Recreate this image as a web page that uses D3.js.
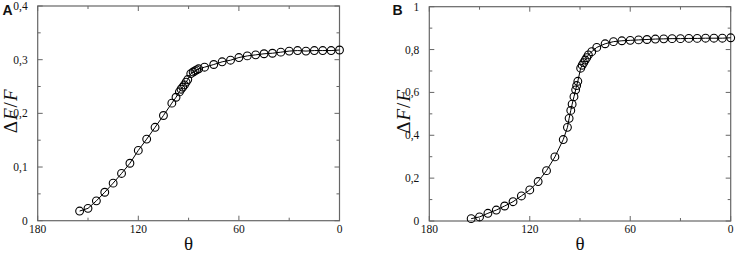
<!DOCTYPE html>
<html>
<head>
<meta charset="utf-8">
<script src="https://cdn.jsdelivr.net/npm/d3@7"></script>
<style>
	body { margin: 0; background: #fff; }
	svg { display: block; }
</style>
</head>
<body>
<svg id="chart" width="737" height="253"></svg>
<script>
// theta values (degrees) and dF/F
const thetaA = [155, 150, 145, 140, 135, 130, 125, 120, 115, 110, 105, 100, 97.5, 95.5, 94.5, 93.5, 92.5, 91.5, 90.5,
	88.7, 87.3, 86.2, 85.2, 84, 80.5, 75, 70, 65, 60, 55, 50, 45, 40, 35, 30, 25, 20, 15, 10, 5, 0];
const dffA = [0.018, 0.023, 0.037, 0.053, 0.070, 0.088, 0.107, 0.131, 0.152, 0.174, 0.196, 0.219, 0.230, 0.240, 0.245, 0.249, 0.253, 0.258, 0.263,
	0.274, 0.277, 0.279, 0.281, 0.283, 0.286, 0.291, 0.296, 0.299, 0.304, 0.307, 0.309, 0.311, 0.312, 0.314, 0.316, 0.317, 0.316, 0.317, 0.317, 0.317, 0.318];

const thetaB = [155, 150, 145, 140, 135, 130, 125, 120, 115, 110, 105, 100, 97.5, 96.5, 95.5, 94.7, 93.6, 92.6, 92, 91.3,
	89.6, 88.7, 87.8, 86.9, 86, 85, 83, 80, 75, 70, 65, 60, 55, 50, 45, 40, 35, 30, 25, 20, 15, 10, 5, 0];
const dffB = [0.011, 0.019, 0.036, 0.051, 0.070, 0.090, 0.117, 0.145, 0.184, 0.235, 0.299, 0.380, 0.437, 0.479, 0.516, 0.545, 0.580, 0.612, 0.632, 0.652,
	0.713, 0.727, 0.739, 0.751, 0.762, 0.775, 0.790, 0.810, 0.827, 0.837, 0.841, 0.843, 0.845, 0.847, 0.849, 0.850, 0.851, 0.851, 0.852, 0.852, 0.853, 0.853, 0.853, 0.855];

const xTicksMajor = [180, 120, 60, 0];
const xTicksMinor = [150, 90, 30];
const yTicksA = [0, 0.1, 0.2, 0.3, 0.4];
const yMinorA = [0.05, 0.15, 0.25, 0.35];
const yTicksB = [0, 0.2, 0.4, 0.6, 0.8, 1];
const yMinorB = [0.1, 0.3, 0.5, 0.7, 0.9];

const SERIF = '"Liberation Serif", "Times New Roman", Times, serif';
const SANS = '"Liberation Sans", Arial, sans-serif';

const svg = d3.select('#chart');
const fmt = v => (v === 0 || v === 1) ? String(v) : String(v).replace('.', ',');

function drawPanel(box, letter, theta, dff, yMax, yTicks, yMinor) {
	const { left, right, top, bottom } = box;
	const g = svg.append('g');

	const x = d3.scaleLinear().domain([180, 0]).range([left, right]);
	const y = d3.scaleLinear().domain([0, yMax]).range([bottom, top]);

	const frame = '#666';
	const MAJOR = 5, MINOR = 3;

	/* ---- frame ---- */
	g.append('rect')
		.attr('x', left).attr('y', top)
		.attr('width', right - left).attr('height', bottom - top)
		.attr('fill', 'none').attr('stroke', frame).attr('stroke-width', 1.2);

	/* ---- ticks, pointing in, mirrored on top and right ---- */
	const xt = xTicksMajor.map(d => ({ v: d, len: MAJOR })).concat(xTicksMinor.map(d => ({ v: d, len: MINOR })));
	xt.forEach(t => {
		g.append('line').attr('x1', x(t.v)).attr('x2', x(t.v)).attr('y1', bottom).attr('y2', bottom - t.len)
			.attr('stroke', frame);
		g.append('line').attr('x1', x(t.v)).attr('x2', x(t.v)).attr('y1', top).attr('y2', top + t.len)
			.attr('stroke', frame);
	});
	const yt = yTicks.map(d => ({ v: d, len: MAJOR })).concat(yMinor.map(d => ({ v: d, len: MINOR })));
	yt.forEach(t => {
		g.append('line').attr('x1', left).attr('x2', left + t.len).attr('y1', y(t.v)).attr('y2', y(t.v))
			.attr('stroke', frame);
		g.append('line').attr('x1', right).attr('x2', right - t.len).attr('y1', y(t.v)).attr('y2', y(t.v))
			.attr('stroke', frame);
	});

	/* ---- tick labels ---- */
	g.selectAll('.xl').data(xTicksMajor).join('text')
		.attr('font-family', SERIF).attr('font-size', 11.5).attr('fill', '#111')
		.attr('x', d => x(d)).attr('y', bottom + 12)
		.attr('text-anchor', 'middle')
		.text(d => d);

	g.selectAll('.yl').data(yTicks).join('text')
		.attr('font-family', SERIF).attr('font-size', 11.5).attr('fill', '#111')
		.attr('x', left - 10).attr('y', d => y(d) + 4)
		.attr('text-anchor', 'end')
		.text(fmt);

	/* ---- axis titles ---- */
	g.append('text')
		.attr('font-family', SERIF).attr('font-size', 19).attr('fill', '#111')
		.attr('x', (left + right) / 2).attr('y', 250)
		.attr('text-anchor', 'middle')
		.text('θ');

	const yl = g.append('text')
		.attr('font-family', SERIF).attr('font-size', 19).attr('fill', '#111')
		.attr('transform', `translate(${left - box.titleOff},${(top + bottom) / 2 - 2}) rotate(-90)`)
		.attr('text-anchor', 'middle');
	yl.append('tspan').text('Δ');
	yl.append('tspan').attr('font-style', 'italic').attr('dx', 1).text('F');
	yl.append('tspan').attr('dx', 1).text('/');
	yl.append('tspan').attr('font-style', 'italic').attr('dx', 1).text('F');

	g.append('text')
		.attr('font-family', SANS).attr('font-weight', 'bold').attr('font-size', 14).attr('fill', '#111')
		.attr('x', box.letterX).attr('y', 15)
		.text(letter);

	/* ---- data: line plus open circles ---- */
	const pts = theta.map((t, i) => [t, dff[i]]);

	g.append('path')
		.datum(pts)
		.attr('d', d3.line().x(d => x(d[0])).y(d => y(d[1])))
		.attr('fill', 'none').attr('stroke', '#000').attr('stroke-width', 1);

	g.selectAll('circle').data(pts).join('circle')
		.attr('cx', d => x(d[0])).attr('cy', d => y(d[1]))
		.attr('r', 3.9)
		.attr('fill', 'none').attr('stroke', '#000').attr('stroke-width', 1.1);
}

drawPanel({ left: 37.7, right: 339.5, top: 6, bottom: 220.7, letterX: 2.5, titleOff: 21 }, 'A', thetaA, dffA, 0.4, yTicksA, yMinorA);
drawPanel({ left: 429.3, right: 730.7, top: 6.7, bottom: 221, letterX: 392.5, titleOff: 19 }, 'B', thetaB, dffB, 1, yTicksB, yMinorB);
</script>
</body>
</html>
